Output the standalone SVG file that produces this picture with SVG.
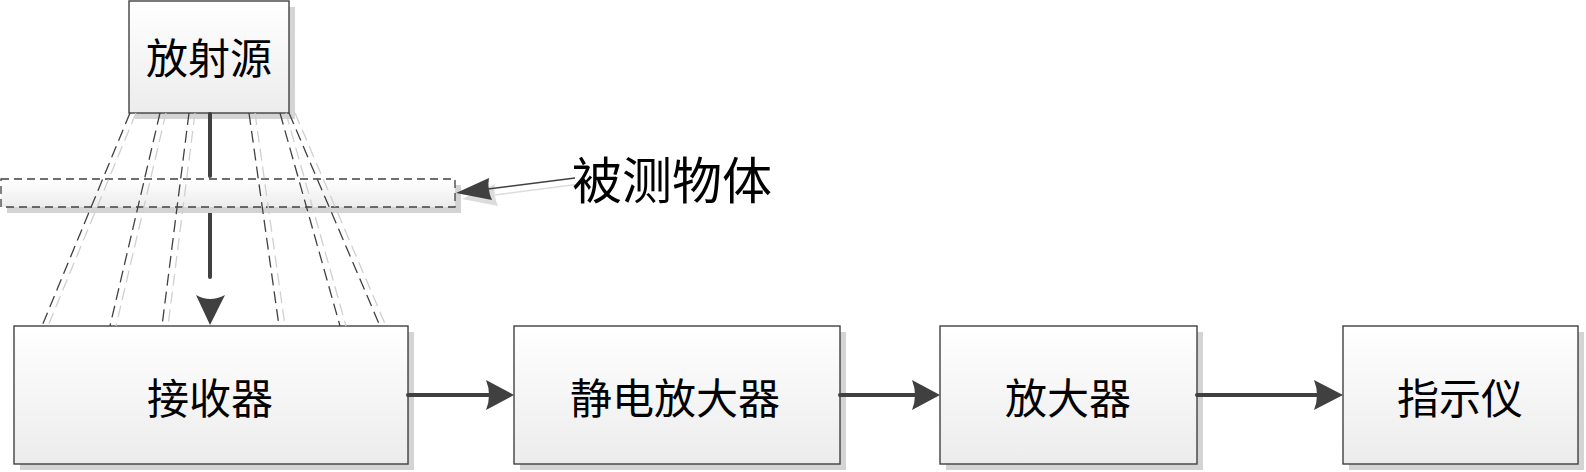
<svg xmlns="http://www.w3.org/2000/svg" width="1586" height="472" viewBox="0 0 1586 472">
<defs>
<linearGradient id="g" x1="0" y1="0" x2="0" y2="1">
<stop offset="0" stop-color="#ffffff"/>
<stop offset="1" stop-color="#ececec"/>
</linearGradient>
<style>
.shadow{fill:#d4d4d4;stroke:none}
.box{fill:url(#g);stroke:#404040;stroke-width:1.4}
.lbl{font-family:"Noto Sans CJK SC","Noto Sans CJK JP",sans-serif;font-size:42px;fill:#000;text-anchor:middle;dominant-baseline:central}
.ray{stroke:#404040;stroke-width:1.3;stroke-dasharray:12 6;fill:none}
.rays{stroke:#d0d0d0;stroke-width:1.3;stroke-dasharray:12 6;fill:none}
.conn{stroke:#404040;stroke-width:4;stroke-linecap:round;fill:none}
.head{fill:#404040;stroke:none}
</style>
</defs>
<rect width="1586" height="472" fill="#ffffff"/>

<g id="source">
<rect class="shadow" x="135" y="7" width="160" height="112"/>
<rect class="box" x="129" y="1" width="160" height="112"/>
<text class="lbl" x="209" y="55">放射源</text>
</g>

<g id="receiver">
<rect class="shadow" x="20" y="332" width="394" height="138"/>
<rect class="box" x="14" y="326" width="394" height="138"/>
<text class="lbl" x="210" y="395">接收器</text>
</g>

<g id="electrostatic-amp">
<rect class="shadow" x="520" y="332" width="326" height="138"/>
<rect class="box" x="514" y="326" width="326" height="138"/>
<text class="lbl" x="675" y="395">静电放大器</text>
</g>

<g id="amplifier">
<rect class="shadow" x="946" y="332" width="257" height="138"/>
<rect class="box" x="940" y="326" width="257" height="138"/>
<text class="lbl" x="1068" y="395">放大器</text>
</g>

<g id="indicator">
<rect class="shadow" x="1349" y="332" width="235" height="138"/>
<rect class="box" x="1343" y="326" width="235" height="138"/>
<text class="lbl" x="1460" y="395">指示仪</text>
</g>

<g id="connectors">
<line class="conn" x1="210" y1="114" x2="210" y2="176"/>
<line class="conn" x1="210" y1="212" x2="210" y2="277"/>
<path class="head" d="M196 295 Q210 303 225 295 L210 325 Z"/>
<line class="conn" x1="408" y1="395" x2="490" y2="395"/>
<path class="head" d="M486 380 L514 395 L486 410 Q492 395 486 380 Z"/>
<line class="conn" x1="840" y1="395" x2="916" y2="395"/>
<path class="head" d="M912 380 L940 395 L912 410 Q918 395 912 380 Z"/>
<line class="conn" x1="1197" y1="395" x2="1318" y2="395"/>
<path class="head" d="M1314 380 L1343 395 L1314 410 Q1320 395 1314 380 Z"/>
</g>

<g id="object">
<rect class="shadow" x="7" y="185" width="454" height="28"/>
<rect x="1" y="179" width="454" height="28" fill="url(#g)" stroke="#404040" stroke-width="1.3" stroke-dasharray="8 5"/>
</g>

<g id="rays">
<line class="rays" x1="136" y1="113" x2="48" y2="326"/>
<line class="rays" x1="166" y1="113" x2="116" y2="326"/>
<line class="rays" x1="195" y1="113" x2="168" y2="326"/>
<line class="rays" x1="255" y1="113" x2="285" y2="326"/>
<line class="rays" x1="286" y1="113" x2="346" y2="326"/>
<line class="rays" x1="295" y1="113" x2="386" y2="326"/>
<line class="ray" x1="130" y1="113" x2="42" y2="326"/>
<line class="ray" x1="160" y1="113" x2="110" y2="326"/>
<line class="ray" x1="189" y1="113" x2="162" y2="326"/>
<line class="ray" x1="249" y1="113" x2="279" y2="326"/>
<line class="ray" x1="280" y1="113" x2="340" y2="326"/>
<line class="ray" x1="289" y1="113" x2="380" y2="326"/>
</g>

<g id="object-label">
<line x1="495" y1="195" x2="580" y2="184" stroke="#dcdcdc" stroke-width="1.5"/>
<path d="M495 184 L462 199 L498 206 Q493 195 495 184 Z" fill="#dcdcdc"/>
<line x1="488" y1="189" x2="575" y2="178" stroke="#404040" stroke-width="1.5"/>
<path d="M489 178 L456 193 L492 200 Q487 189 489 178 Z" fill="#404040"/>
<text class="lbl" x="672" y="177" style="font-size:50px">被测物体</text>
</g>
</svg>
